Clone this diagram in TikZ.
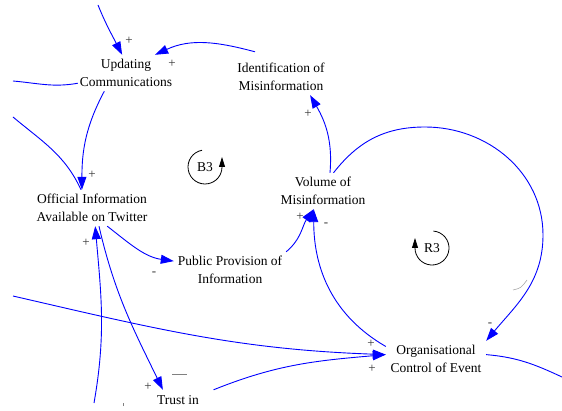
\documentclass[tikz,border=0pt]{standalone}
\usepackage{fontspec}
\setmainfont{Liberation Serif}
\usetikzlibrary{arrows.meta}
\definecolor{linkblue}{RGB}{0,0,255}
\begin{document}
\begin{tikzpicture}[x=1pt,y=1pt,
  var/.style={align=center, inner sep=0pt, minimum height=36pt, font=\fontsize{13.5}{18}\selectfont, text=black},
  link/.style={draw=linkblue, line width=0.9pt, -{Triangle[length=13pt,width=9pt]}},
  plain/.style={draw=linkblue, line width=0.9pt},
  sign/.style={font=\fontsize{13}{13}\selectfont, text=black!80, inner sep=0pt},
  looplabel/.style={font=\fontsize{13.5}{18}\selectfont, inner sep=0pt},
  loopmark/.style={draw=black, line width=0.8pt, -{Triangle[length=10pt,width=6pt]}},
  tick/.style={draw=gray, line width=0.6pt}
]
\useasboundingbox (0,0) rectangle (562,410);

% variables
\node[var, minimum width=96pt] (upd) at (126,337) {Updating\\Communications};
\node[var, minimum width=90pt] (idf) at (281,333) {Identification of\\Misinformation};
\node[var, minimum width=114pt] (off) at (92,202) {Official Information\\Available on Twitter};
\node[var, minimum width=112pt] (pub) at (230,140) {Public Provision of\\Information};
\node[var, minimum width=88pt] (vol) at (323,219) {Volume of\\Misinformation};
\node[var, minimum width=100pt] (org) at (436,51) {Organisational\\Control of Event};
\node[var, minimum width=80pt, minimum height=20pt] (trust) at (178,10) {Trust in};

% free ends and waypoints
\coordinate (inTop) at (98,405);
\coordinate (outLeftA) at (13,329);
\coordinate (inLeftB) at (13,293);
\coordinate (inLeftC) at (13,114);
\coordinate (outRight) at (562,33);
\coordinate (inBottom) at (94,7);
\coordinate (arcTop) at (425,283);
\coordinate (arcRight) at (543,175);

% connectors
\draw[link] (inTop) to[out=-68,in=117] (upd.102);
\draw[link] ([shift={(-26,7)}]idf.north) to[out=165,in=25] (upd.32);
\draw[plain] (upd.192) to[out=190,in=-5] (outLeftA);
\draw[link] (upd.-140) to[out=-118,in=90] (off.119);
\draw[plain] (inLeftB) to[out=-40,in=115] (off.121);
\draw[link] (off.-50) to[out=-38,in=172] (pub.171);
\draw[link] (pub.north east) to[out=40,in=-125] (vol.-117);
\draw[link] (vol.69) to[out=85,in=-60] (idf.-32);
\draw[link] (vol.60) to[out=52,in=180] (arcTop) to[out=0,in=90] (arcRight) to[out=-90,in=50] (org.north east);
\draw[link] (org.166) to[out=150,in=-90] (vol.-117);
\draw[link] (inLeftC) to[out=-13,in=178] (org.175);
\draw[link] (trust.16) to[out=22,in=185] (org.175);
\draw[plain] (org.5) to[out=-5,in=155] (outRight);
\draw[link] (off.-69) to[out=-77,in=116] (trust.146);
\draw[link] (inBottom) to[out=80,in=-85] (off.-80);

% loop markers
\node[looplabel] (b3) at (205,243) {B3};
\draw[loopmark] ([shift={(100:17)}]b3.center) arc[start angle=100,end angle=360,radius=17] -- ++(0,10);
\node[looplabel] (r3) at (432,162) {R3};
\draw[loopmark] ([shift={(85:17)}]r3.center) arc[start angle=85,end angle=-180,radius=17] -- ++(0,10);

% polarity signs
\node[sign] (s1) at (129,369) {+};
\node[sign] (s2) at (172,346) {+};
\node[sign] (s3) at (92,235) {+};
\node[sign] (s4) at (154,136) {-};
\node[sign] (s5) at (300,193) {+};
\node[sign] (s6) at (308,296) {+};
\node[sign] (s7) at (490,85) {-};
\node[sign] (s8) at (326,185) {-};
\node[sign] (s9) at (371,66) {+};
\node[sign] (s10) at (372,41) {+};
\node[sign] (s11) at (148,23) {+};
\node[sign] (s12) at (86,167) {+};

% small marks
\draw[tick] (172,36) -- (187,36);
\draw[tick] (123,4) -- (123,7);
\draw[tick, draw=gray!70] (513,120) .. controls (521,122) .. (527,130);
\end{tikzpicture}
\end{document}
